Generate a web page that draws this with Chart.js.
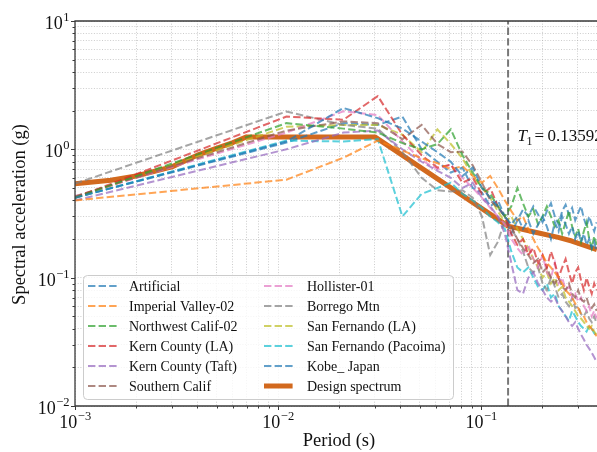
<!DOCTYPE html>
<html>
<head>
<meta charset="utf-8">
<script src="https://cdn.jsdelivr.net/npm/chart.js@4.4.1/dist/chart.umd.min.js"></script>
<style>
html,body{margin:0;padding:0;background:#fff;}
canvas{display:block;}
</style>
</head>
<body>
<canvas id="c" width="597" height="452"></canvas>
<script>
// ---------------- DATA ----------------
const periods = [0.001,0.011,0.021,0.031,0.041,0.051,0.061,0.071,0.081,0.091,0.101,0.111,0.121,0.131,0.141,0.151,0.161,0.171,0.181,0.191,0.201,0.211,0.221,0.231,0.241,0.251,0.261,0.271,0.281,0.291,0.301,0.311,0.321,0.331,0.341,0.351,0.361,0.371];

const artificial   = [0.42,1.15,2.10,1.75,1.45,1.15,0.95,0.80,0.62,0.72,0.50,0.42,0.36,0.30,0.26,0.30,0.24,0.28,0.22,0.26,0.30,0.25,0.20,0.27,0.23,0.30,0.26,0.22,0.25,0.20,0.23,0.19,0.22,0.18,0.20,0.17,0.19,0.16];
const imperialValley = [0.40,0.58,0.86,1.17,0.98,0.85,0.78,0.70,0.74,0.62,0.55,0.62,0.50,0.40,0.33,0.28,0.30,0.24,0.20,0.17,0.15,0.13,0.12,0.11,0.10,0.09,0.08,0.075,0.07,0.063,0.058,0.052,0.05,0.045,0.042,0.04,0.037,0.035];
const nwCalif      = [0.42,1.60,1.45,1.35,1.12,1.00,1.10,1.43,0.90,0.66,0.50,0.45,0.36,0.30,0.36,0.50,0.38,0.30,0.34,0.26,0.30,0.36,0.30,0.25,0.28,0.22,0.27,0.33,0.25,0.21,0.24,0.19,0.23,0.27,0.20,0.17,0.21,0.18];
const kernLA       = [0.42,1.80,1.70,2.60,1.30,0.90,0.72,0.76,0.55,0.60,0.45,0.50,0.36,0.30,0.22,0.18,0.20,0.15,0.17,0.13,0.15,0.12,0.16,0.13,0.10,0.12,0.14,0.11,0.09,0.11,0.12,0.095,0.08,0.10,0.085,0.075,0.09,0.08];
const kernTaft     = [0.40,1.00,1.35,1.40,1.00,0.80,0.68,0.60,0.50,0.55,0.42,0.36,0.30,0.22,0.13,0.08,0.075,0.10,0.11,0.09,0.08,0.07,0.065,0.07,0.06,0.055,0.05,0.045,0.042,0.045,0.04,0.036,0.033,0.03,0.028,0.026,0.024,0.022];
const southernCalif= [0.43,1.40,1.65,1.60,1.20,1.55,1.10,0.95,0.96,0.75,0.55,0.40,0.35,0.30,0.25,0.20,0.17,0.15,0.13,0.14,0.11,0.12,0.10,0.09,0.10,0.085,0.08,0.09,0.075,0.07,0.08,0.068,0.065,0.07,0.06,0.058,0.062,0.055];
const hollister    = [0.43,1.35,1.98,1.85,1.15,0.82,0.70,0.76,0.60,0.50,0.42,0.35,0.30,0.26,0.20,0.17,0.15,0.18,0.14,0.12,0.15,0.11,0.10,0.13,0.09,0.10,0.08,0.085,0.07,0.075,0.065,0.07,0.06,0.055,0.06,0.05,0.055,0.048];
const borregoMtn   = [0.54,1.97,1.55,1.45,0.95,0.60,0.48,0.47,0.48,0.42,0.30,0.15,0.19,0.28,0.24,0.20,0.16,0.12,0.11,0.12,0.09,0.08,0.10,0.085,0.07,0.075,0.065,0.06,0.07,0.058,0.06,0.052,0.05,0.055,0.048,0.045,0.05,0.044];
const sanFernandoLA= [0.42,1.50,1.55,1.55,1.30,0.95,1.43,1.10,0.85,0.62,0.50,0.42,0.33,0.27,0.30,0.24,0.20,0.17,0.14,0.12,0.10,0.11,0.09,0.10,0.08,0.085,0.07,0.065,0.06,0.055,0.05,0.048,0.045,0.042,0.04,0.042,0.038,0.036];
const pacoima      = [0.42,1.17,1.15,1.20,0.30,0.45,0.50,0.55,0.45,0.40,0.35,0.30,0.27,0.24,0.16,0.12,0.11,0.12,0.10,0.085,0.08,0.09,0.07,0.075,0.06,0.055,0.05,0.046,0.055,0.05,0.045,0.042,0.04,0.038,0.042,0.04,0.037,0.035];
const kobeJapan    = [0.42,1.13,1.60,1.55,1.80,1.00,0.80,0.66,0.72,0.50,0.46,0.36,0.40,0.30,0.22,0.28,0.34,0.30,0.36,0.31,0.27,0.33,0.38,0.30,0.26,0.33,0.37,0.31,0.35,0.28,0.32,0.36,0.29,0.25,0.30,0.26,0.23,0.27];

const seriesNames  = ['Artificial','Imperial Valley-02','Northwest Calif-02','Kern County (LA)','Kern County (Taft)','Southern Calif','Hollister-01','Borrego Mtn','San Fernando (LA)','San Fernando (Pacoima)','Kobe_ Japan'];
const seriesValues = [artificial,imperialValley,nwCalif,kernLA,kernTaft,southernCalif,hollister,borregoMtn,sanFernandoLA,pacoima,kobeJapan];
const seriesColors = ['#1f77b4','#ff7f0e','#2ca02c','#d62728','#9467bd','#8c564b','#e377c2','#7f7f7f','#bcbd22','#17becf','#1f77b4'];

const designPeriods = [0.001,0.0015,0.002,0.003,0.004,0.005,0.006,0.007,0.03,0.1359,0.19,0.24,0.28,0.372];
const designValues  = [0.54,0.575,0.62,0.73,0.90,1.02,1.13,1.25,1.25,0.252,0.224,0.206,0.193,0.165];
const designLabel = 'Design spectrum';

const T1 = 0.1359;
const T1Label = '0.13592';
const yRangeLine = [0.01, 10];

const xMajorTicks = [0.001, 0.01, 0.1];
const xMajorExps  = ['\u22123','\u22122','\u22121'];
const yMajorTicks = [0.01, 0.1, 1, 10];
const yMajorExps  = ['\u22122','\u22121','0','1'];

const xLabel = 'Period (s)';
const yLabel = 'Spectral acceleration (g)';

// ---------------- STYLE ----------------
const SERIF = '"Liberation Serif","Times New Roman",serif';
const spineColor = '#3a3a3a';
function withAlpha(hex, a){
  const r=parseInt(hex.slice(1,3),16), g=parseInt(hex.slice(3,5),16), b=parseInt(hex.slice(5,7),16);
  return `rgba(${r},${g},${b},${a})`;
}
const recDash = [7.4,3.2];
const designColor = '#d2691e';

const datasets = seriesNames.map((name,i)=>({
  label: name,
  data: periods.map((p,k)=>({x:p, y:seriesValues[i][k]})),
  borderColor: withAlpha(seriesColors[i],0.7),
  borderWidth: 2,
  borderDash: recDash,
  pointRadius: 0,
  fill: false,
  tension: 0
}));
datasets.push({
  label: '__T1',
  data: yRangeLine.map(v=>({x:T1, y:v})),
  borderColor: 'rgba(105,105,105,0.9)',
  borderWidth: 2,
  borderDash: [7.4,3.2],
  pointRadius: 0,
  fill:false
});
datasets.push({
  label: designLabel,
  data: designPeriods.map((p,k)=>({x:p, y:designValues[k]})),
  borderColor: designColor,
  borderWidth: 5,
  pointRadius: 0,
  fill:false,
  tension:0,
  borderJoinStyle:'round',
  borderCapStyle:'butt'
});

function logTicks(min,max){
  const t=[];
  for(let d=Math.floor(Math.log10(min)); d<=Math.ceil(Math.log10(max)); d++){
    for(let m=1;m<=9;m++){
      const v = +(m*Math.pow(10,d)).toPrecision(6);
      if(v>=min*0.9999 && v<=max*1.0001) t.push({value:v});
    }
  }
  return t;
}

const decor = {
  id:'decor',
  afterDraw(chart){
    const {ctx, chartArea:a, scales:{x,y}} = chart;
    ctx.save();
    // spines
    ctx.strokeStyle = spineColor; ctx.lineWidth = 1.3; ctx.setLineDash([]);
    ctx.beginPath();
    ctx.moveTo(a.left, a.bottom); ctx.lineTo(a.left, a.top); ctx.lineTo(a.right+2, a.top);
    ctx.moveTo(a.left, a.bottom); ctx.lineTo(a.right+2, a.bottom);
    ctx.stroke();
    // tick marks
    ctx.lineWidth = 1;
    ctx.beginPath();
    x.ticks.forEach(t=>{
      const px = Math.round(x.getPixelForValue(t.value))+0.5;
      const major = Math.abs(Math.log10(t.value)-Math.round(Math.log10(t.value)))<1e-6;
      const len = major?4:2.5;
      ctx.moveTo(px, a.bottom); ctx.lineTo(px, a.bottom+len);
    });
    y.ticks.forEach(t=>{
      const py = Math.round(y.getPixelForValue(t.value))+0.5;
      const major = Math.abs(Math.log10(t.value)-Math.round(Math.log10(t.value)))<1e-6;
      const len = major?4:2.5;
      ctx.moveTo(a.left, py); ctx.lineTo(a.left-len, py);
    });
    ctx.stroke();
    // tick labels
    ctx.fillStyle = '#111';
    ctx.textBaseline = 'alphabetic';
    ctx.textAlign = 'left';
    xMajorTicks.forEach((v,i)=>{
      const px = x.getPixelForValue(v);
      ctx.font = '18px '+SERIF; const w1 = ctx.measureText('10').width;
      ctx.font = '12.5px '+SERIF; const w2 = ctx.measureText(xMajorExps[i]).width;
      const x0 = px - (w1+w2)/2;
      ctx.font = '18px '+SERIF; ctx.fillText('10', x0, 428);
      ctx.font = '12.5px '+SERIF; ctx.fillText(xMajorExps[i], x0+w1+0.5, 420);
    });
    yMajorTicks.forEach((v,i)=>{
      const py = y.getPixelForValue(v);
      ctx.font = '18px '+SERIF; const w1 = ctx.measureText('10').width;
      ctx.font = '12.5px '+SERIF; const w2 = ctx.measureText(yMajorExps[i]).width;
      const x0 = 69 - (w1+w2);
      ctx.font = '18px '+SERIF; ctx.fillText('10', x0, py+8);
      ctx.font = '12.5px '+SERIF; ctx.fillText(yMajorExps[i], x0+w1+0.5, py);
    });
    // axis titles
    ctx.font = '18.5px '+SERIF;
    ctx.textAlign='center'; ctx.textBaseline='middle';
    ctx.fillText(xLabel, 339, 441);
    ctx.save();
    ctx.translate(20, (a.top+a.bottom)/2+1);
    ctx.rotate(-Math.PI/2);
    ctx.fillText(yLabel, 0, 0);
    ctx.restore();
    // T1 annotation
    ctx.textAlign='left'; ctx.textBaseline='alphabetic';
    const tx = x.getPixelForValue(T1)+9.5;
    ctx.font = 'italic 17px '+SERIF; ctx.fillText('T', tx, 141);
    const wT = ctx.measureText('T').width;
    ctx.font = '12px '+SERIF; ctx.fillText('1', tx+wT-0.5, 144.5);
    ctx.font = '17px '+SERIF;
    ctx.fillText('=', tx+17, 141);
    ctx.fillText(T1Label, tx+30, 141);
    // legend
    const lb = {x:83, y:275, w:370, h:124};
    ctx.beginPath();
    ctx.roundRect(lb.x+0.5, lb.y+0.5, lb.w, lb.h, 4);
    ctx.fillStyle='rgba(255,255,255,0.8)'; ctx.fill();
    ctx.strokeStyle='#cccccc'; ctx.lineWidth=1; ctx.stroke();
    const entries = seriesNames.map((n,i)=>({name:n, color:withAlpha(seriesColors[i],0.7), w:2, dash:recDash}));
    entries.push({name:designLabel, color:designColor, w:5, dash:[]});
    const colHandle=[88,264], colText=[129,307];
    entries.forEach((e,i)=>{
      const c = i<6?0:1, r=i%6;
      const yy = 286 + 20*r;
      ctx.strokeStyle=e.color; ctx.lineWidth=e.w; ctx.setLineDash(e.dash);
      ctx.beginPath(); ctx.moveTo(colHandle[c], yy); ctx.lineTo(colHandle[c]+28.6, yy); ctx.stroke();
      ctx.setLineDash([]);
      ctx.fillStyle='#111'; ctx.font='14px '+SERIF; ctx.textBaseline='middle'; ctx.textAlign='left';
      ctx.fillText(e.name, colText[c], yy+1);
    });
    ctx.restore();
  }
};

new Chart(document.getElementById('c'), {
  type:'line',
  data:{datasets},
  options:{
    responsive:false,
    animation:false,
    devicePixelRatio:1,
    layout:{padding:{top:21,right:0,left:0,bottom:0}},
    plugins:{legend:{display:false}, tooltip:{enabled:false}},
    scales:{
      x:{
        type:'logarithmic', min:0.001, max:0.3726,
        afterBuildTicks:(s)=>{s.ticks = logTicks(0.001,0.3726);},
        afterFit:(s)=>{s.height=46;},
        ticks:{display:false},
        grid:{color:'rgba(170,170,170,0.75)', lineWidth:0.8, drawTicks:false},
        border:{display:false, dash:[1,1.7]}
      },
      y:{
        type:'logarithmic', min:0.01, max:10,
        afterBuildTicks:(s)=>{s.ticks = logTicks(0.01,10);},
        afterFit:(s)=>{s.width=75;},
        ticks:{display:false},
        grid:{color:'rgba(170,170,170,0.75)', lineWidth:0.8, drawTicks:false},
        border:{display:false, dash:[1,1.7]}
      }
    }
  },
  plugins:[decor]
});
</script>
</body>
</html>
